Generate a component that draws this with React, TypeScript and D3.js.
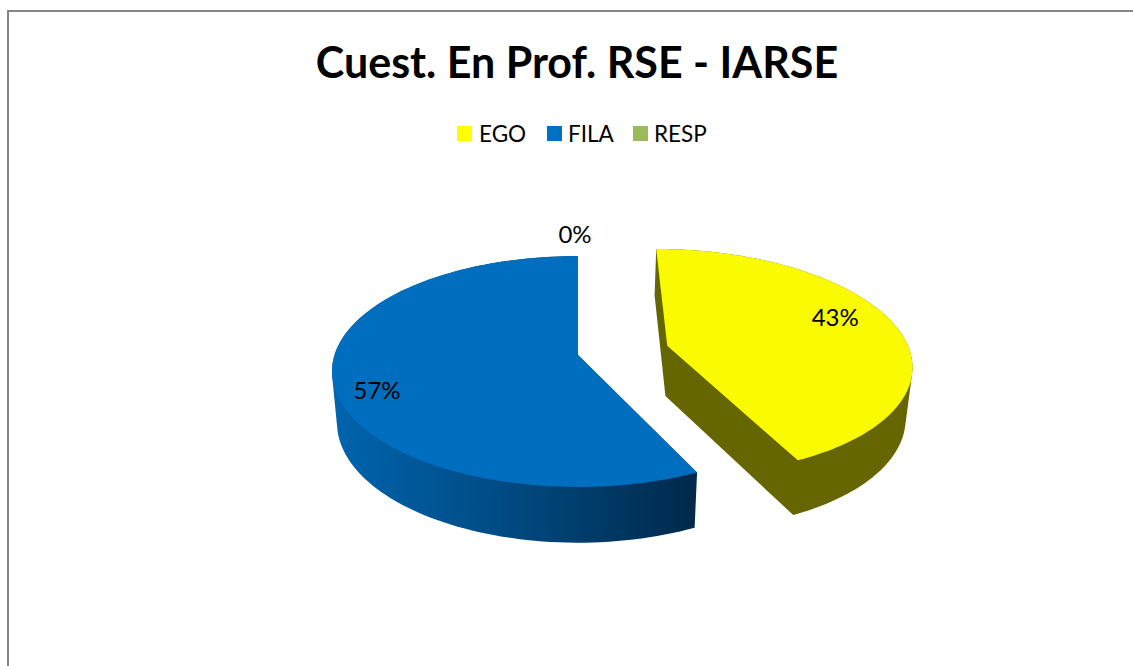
import React from 'react';
import * as d3 from 'd3';

const categories = ['EGO', 'FILA', 'RESP'];
const shares = [43, 57, 0];
const legendColors = ['#ffff00', '#0070c0', '#9bbb59'];
const topColors = ['#fafa00', '#006ebf', '#9bbb59'];
const explode = [0.38, 0, 0];
const labelRadius = [0.74, 0.8, 1.25];
const labelNudge = [[0, -8], [-6, 18], [-3, 2]];

const width = 1133;
const height = 666;
const cx = 578;
const persp = -1 / 7; // foreshortening of the tilted disc

// disc coords (u right, v towards the viewer) -> screen
const planes = {
  top: { d: 243.5, a: 113.1, b: 355 },
  bottom: { d: 238.5, a: 117.4, b: 405.7 },
};
type Plane = { d: number; a: number; b: number };
const project = (p: Plane, u: number, v: number): [number, number] => {
  const w = 1 + persp * v;
  return [cx + (p.d * u) / w, p.b + (p.a * v) / w];
};

const pie = d3.pie<number>().sort(null).value((d) => d);
const arcs = pie(shares);

// outline of a slice in disc coords: apex, then rim from start to end angle
function outline(start: number, end: number, off: [number, number]) {
  const rim = d3.range(0, 121).map((i) => {
    const t = start + ((end - start) * i) / 120;
    return [Math.sin(t) + off[0], -Math.cos(t) + off[1]] as [number, number];
  });
  return [off, ...rim];
}

const toPath = (pts: [number, number][]) => 'M' + pts.map((p) => p.join(',')).join('L') + 'Z';

// same winding for every piece, so the nonzero union fills without seams
const wound = (pts: [number, number][]) => (d3.polygonArea(pts) < 0 ? [...pts].reverse() : pts);

function sideWall(pts: [number, number][]) {
  let d = toPath(wound(pts.map(([u, v]) => project(planes.bottom, u, v))));
  pts.forEach((pt, i) => {
    const next = pts[(i + 1) % pts.length];
    d += toPath(
      wound([
        project(planes.top, pt[0], pt[1]),
        project(planes.top, next[0], next[1]),
        project(planes.bottom, next[0], next[1]),
        project(planes.bottom, pt[0], pt[1]),
      ])
    );
  });
  return d;
}

export default function App() {
  const fontFamily = 'Lato, "Open Sans", sans-serif';
  const legendX = [457, 547, 633];
  const legendTextX = [479, 568, 654];
  const slices = arcs.map((a, i) => {
    const mid = (a.startAngle + a.endAngle) / 2;
    const off: [number, number] = [Math.sin(mid) * explode[i], -Math.cos(mid) * explode[i]];
    const pts = outline(a.startAngle, a.endAngle, off);
    const r = labelRadius[i];
    const label = project(planes.top, off[0] + Math.sin(mid) * r, off[1] - Math.cos(mid) * r);
    return { i, pts, label, empty: a.endAngle - a.startAngle === 0 };
  });

  return (
    <svg
      width={width}
      height={height}
      viewBox={`0 0 ${width} ${height}`}
      style={{ position: 'absolute', left: 0, top: 0, background: '#fff' }}
    >
      <defs>
        <linearGradient id="fila-wall" gradientUnits="userSpaceOnUse" x1={332} x2={696} y1={0} y2={0}>
          <stop offset="0%" stopColor="#0064ae" />
          <stop offset="45%" stopColor="#004c85" />
          <stop offset="100%" stopColor="#00294b" />
        </linearGradient>
      </defs>

      {/* chart frame */}
      <path d={`M8,${height}V11H${width}`} fill="none" stroke="#868686" strokeWidth={2} />

      <text x={577} y={78} textAnchor="middle" fontFamily={fontFamily} fontWeight={700} fontSize={43} fill="#000">
        Cuest. En Prof. RSE - IARSE
      </text>

      {/* legend */}
      {categories.map((c, i) => (
        <g key={c}>
          <rect x={legendX[i]} y={126} width={15} height={15} fill={legendColors[i]} />
          <text x={legendTextX[i]} y={142} fontFamily={fontFamily} fontSize={22.5} fill="#000">
            {c}
          </text>
        </g>
      ))}

      {/* slices */}
      {slices.filter((s) => !s.empty).map((s) => (
        <g key={s.i}>
          <path d={sideWall(s.pts)} fill={s.i === 0 ? '#666600' : 'url(#fila-wall)'} />
          <path d={toPath(s.pts.map(([u, v]) => project(planes.top, u, v)))} fill={topColors[s.i]} />
        </g>
      ))}

      {slices.map((s) => (
        <text
          key={s.i}
          x={s.label[0] + labelNudge[s.i][0]}
          y={s.label[1] + labelNudge[s.i][1]}
          textAnchor="middle"
          dominantBaseline="middle"
          fontFamily={fontFamily}
          fontSize={24}
          fill="#000"
        >
          {shares[s.i]}%
        </text>
      ))}
    </svg>
  );
}
